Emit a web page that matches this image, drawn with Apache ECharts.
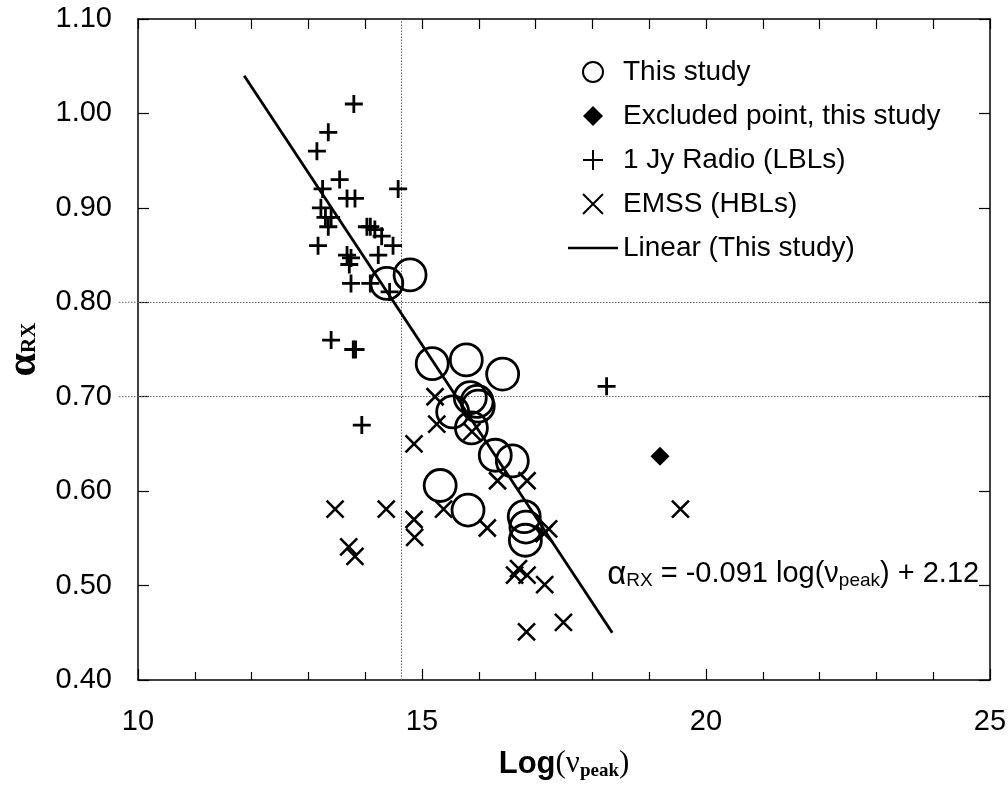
<!DOCTYPE html>
<html>
<head>
<meta charset="utf-8">
<script src="https://cdn.jsdelivr.net/npm/echarts@6/dist/echarts.min.js"></script>
<style>html,body{margin:0;padding:0;background:#fff}#c{width:1008px;height:785px}</style>
</head>
<body>
<div id="c"></div>
<script>
// ---- data ----
var thisStudy = [
  [14.38, 0.820], [14.79, 0.829], [15.18, 0.735], [15.78, 0.739], [16.42, 0.724],
  [15.54, 0.684], [15.85, 0.699], [15.97, 0.695], [15.99, 0.690], [15.87, 0.667],
  [16.29, 0.638], [16.59, 0.632], [15.32, 0.606], [15.81, 0.580], [16.80, 0.573],
  [16.83, 0.562], [16.82, 0.548]
];
var excluded = [[19.19, 0.637]];
var oneJy = [
  [13.80, 1.010], [13.35, 0.980], [13.15, 0.960], [13.55, 0.930], [13.25, 0.920],
  [14.58, 0.920], [13.68, 0.910], [13.82, 0.910], [13.22, 0.900], [13.30, 0.890],
  [13.40, 0.890], [13.35, 0.880], [13.17, 0.860], [14.03, 0.880], [14.09, 0.880],
  [14.17, 0.877], [14.29, 0.870], [14.49, 0.860], [14.23, 0.850], [13.68, 0.850],
  [13.75, 0.847], [13.72, 0.840], [13.75, 0.820], [14.09, 0.820], [14.43, 0.811],
  [13.40, 0.760], [13.79, 0.750], [13.83, 0.750], [13.94, 0.670], [18.25, 0.711]
];
var emss = [
  [13.47, 0.581], [13.71, 0.541], [13.82, 0.531], [14.37, 0.581], [14.86, 0.570],
  [14.87, 0.551], [14.86, 0.650], [15.23, 0.700], [15.26, 0.671], [15.38, 0.581],
  [15.88, 0.663], [16.15, 0.561], [16.33, 0.611], [16.85, 0.611], [17.15, 0.555],
  [17.23, 0.560], [16.63, 0.511], [16.70, 0.518], [16.85, 0.511], [17.16, 0.501],
  [16.84, 0.451], [17.49, 0.461], [19.55, 0.581]
];
var fitLine = [[11.87, 1.040], [18.35, 0.450]];
var xTickLabels = [10, 15, 20, 25];
var yTickLabels = ['0.40','0.50','0.60','0.70','0.80','0.90','1.00','1.10'];
var refX = 14.64;
var refY = [0.80, 0.70];
var seriesNames = ['This study', 'Excluded point, this study', '1 Jy Radio (LBLs)', 'EMSS (HBLs)', 'Linear (This study)'];

var chart = echarts.init(document.getElementById('c'), null, {renderer: 'canvas'});
var sans = "'Liberation Sans', Arial, sans-serif";
var serif = "'Liberation Serif', 'Times New Roman', serif";
var plusPath = 'path://M0,9 L18,9 M9,0 L9,18';
var crossPath = 'path://M0,0 L18,18 M18,0 L0,18';
var diamondPath = 'path://M9,0 L18,9 L9,18 L0,9 Z';
var linePath = 'path://M0,0 L50,0 L50,2.6 L0,2.6 Z';
var tickStyle = {color: '#000', width: 1.2};
var dotted = {color: '#666', type: [1.5, 1.5], width: 1};

var option = {
  animation: false,
  backgroundColor: '#fff',
  grid: {left: 138, right: 18, top: 19, bottom: 105, show: false, containLabel: false, outerBoundsMode: 'none'},
  legend: {
    orient: 'vertical', left: 563, top: 53,
    itemWidth: 50, itemHeight: 20, itemGap: 16,
    data: [
      {name: seriesNames[0]},
      {name: seriesNames[1], icon: diamondPath},
      {name: seriesNames[2]},
      {name: seriesNames[3]},
      {name: seriesNames[4], icon: linePath, itemStyle: {color: '#000', borderWidth: 0}}
    ],
    textStyle: {fontFamily: sans, fontSize: 28, color: '#000', lineHeight: 28}
  },
  xAxis: [{
    type: 'value', min: 10, max: 25, interval: 5, position: 'bottom',
    axisLine: {onZero: false, lineStyle: {color: '#000', width: 1.5}},
    axisTick: {inside: true, length: 11, lineStyle: tickStyle},
    minorTick: {show: true, splitNumber: 5, length: 8, lineStyle: tickStyle},
    splitLine: {show: false},
    axisLabel: {margin: 27, fontFamily: sans, fontSize: 29, color: '#000',
      formatter: function (v) { return xTickLabels.indexOf(v) >= 0 ? String(v) : ''; }},
    name: '{b|Log}{s|(ν}{sub|peak}{s|)}', nameLocation: 'middle', nameGap: 64,
    nameTextStyle: {rich: {
      b: {fontFamily: sans, fontWeight: 'bold', fontSize: 31, color: '#000', lineHeight: 40},
      s: {fontFamily: serif, fontSize: 31, color: '#000', lineHeight: 40},
      sub: {fontFamily: serif, fontWeight: 'bold', fontSize: 19, color: '#000', lineHeight: 26, padding: [14, 0, 0, 0]}
    }}
  }, {
    type: 'value', min: 10, max: 25, interval: 5, position: 'top',
    axisLine: {onZero: false, lineStyle: {color: '#000', width: 1.5}},
    axisTick: {inside: true, length: 10, lineStyle: tickStyle},
    minorTick: {show: true, splitNumber: 5, length: 10, lineStyle: tickStyle},
    splitLine: {show: false}, axisLabel: {show: false}
  }],
  yAxis: [{
    type: 'value', min: 0.4, max: 1.1, interval: 0.1, position: 'left',
    axisLine: {onZero: false, lineStyle: {color: '#000', width: 1.5}},
    axisTick: {inside: true, length: 11, lineStyle: tickStyle},
    splitLine: {show: false},
    axisLabel: {margin: 26, fontFamily: sans, fontSize: 29, color: '#000',
      formatter: function (v) { return yTickLabels[Math.round((v - 0.4) * 10)]; }},
    name: '{a|α}{sub|RX}', nameLocation: 'middle', nameGap: 88, nameRotate: 90,
    nameTextStyle: {rich: {
      a: {fontFamily: serif, fontWeight: 'bold', fontSize: 42, color: '#000', lineHeight: 46},
      sub: {fontFamily: serif, fontWeight: 'bold', fontSize: 21, color: '#000', lineHeight: 30, padding: [12, 0, 0, 0]}
    }}
  }, {
    type: 'value', min: 0.4, max: 1.1, interval: 0.1, position: 'right',
    axisLine: {onZero: false, lineStyle: {color: '#000', width: 1.5}},
    axisTick: {inside: true, length: 11, lineStyle: tickStyle},
    splitLine: {show: false}, axisLabel: {show: false}
  }],
  series: [{
    name: seriesNames[0], type: 'scatter', data: thisStudy, symbol: 'circle', symbolSize: 32,
    itemStyle: {color: 'rgba(0,0,0,0)', borderColor: '#000', borderWidth: 2.8, opacity: 1}, z: 3
  }, {
    name: seriesNames[1], type: 'scatter', data: excluded, symbol: diamondPath, symbolSize: 19,
    itemStyle: {color: '#000', opacity: 1}, z: 3
  }, {
    name: seriesNames[2], type: 'scatter', data: oneJy, symbol: plusPath, symbolSize: 18,
    itemStyle: {color: 'rgba(0,0,0,0)', borderColor: '#000', borderWidth: 2.8, opacity: 1}, z: 3
  }, {
    name: seriesNames[3], type: 'scatter', data: emss, symbol: crossPath, symbolSize: 17,
    itemStyle: {color: 'rgba(0,0,0,0)', borderColor: '#000', borderWidth: 2.6, opacity: 1}, z: 3
  }, {
    name: seriesNames[4], type: 'line', data: fitLine, symbol: 'none', clip: false,
    itemStyle: {color: '#000'},
    lineStyle: {color: '#000', width: 2.8}, z: 4,
    markLine: {
      silent: true, symbol: 'none', label: {show: false}, lineStyle: dotted, z: 1,
      data: [
        [{coord: [refX, 0.4]}, {coord: [refX, 1.1]}],
        [{coord: [10, refY[0]]}, {coord: [25, refY[0]]}],
        [{coord: [10, refY[1]]}, {coord: [25, refY[1]]}]
      ]
    }
  }]
};
chart.setOption(option);

// equation label and the short grid-line stubs left of the axis, placed via the chart's own scales
var extra = [];
refY.forEach(function (v) {
  var p = chart.convertToPixel({gridIndex: 0}, [10, v]);
  extra.push({type: 'line', silent: true, z: 1,
    shape: {x1: p[0] - 19, y1: p[1], x2: p[0], y2: p[1]},
    style: {stroke: '#666', lineWidth: 1, lineDash: [1.5, 1.5]}});
});
var eqPos = chart.convertToPixel({gridIndex: 0}, [18.26, 0.533]);
extra.push({
  type: 'text', z: 10, x: eqPos[0], y: eqPos[1],
  style: {
    text: '{a|α}{sub|RX}{t| = -0.091 log(ν}{sub|peak}{t|) + 2.12}',
    rich: {
      a: {fontFamily: sans, fontSize: 33, fill: '#000', lineHeight: 40},
      t: {fontFamily: sans, fontSize: 29, fill: '#000', lineHeight: 40},
      sub: {fontFamily: sans, fontSize: 19, fill: '#000', lineHeight: 28, padding: [12, 0, 0, 0]}
    }
  }
});
chart.setOption({graphic: extra});
</script>
</body>
</html>
